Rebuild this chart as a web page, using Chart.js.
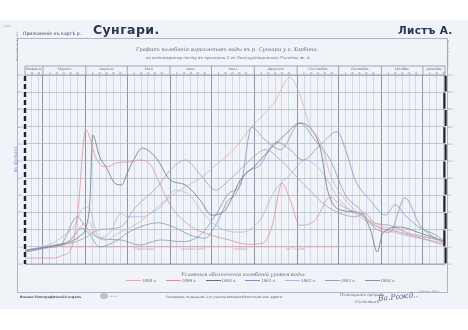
<!DOCTYPE html>
<html lang="ru">
<head>
<meta charset="UTF-8">
<title>Сунгари — Листъ А.</title>
<script src="https://cdn.jsdelivr.net/npm/chart.js@4.4.8/dist/chart.umd.min.js"></script>
<style>
    body { margin: 0; background: #fff; }
    #sheet { position: relative; width: 468px; height: 330px; overflow: hidden; }
    .paper { position: absolute; left: 0; top: 20px; width: 468px; height: 289px; background: #f0f3f8; }
    .frame { position: absolute; left: 17px; top: 38px; width: 431px; height: 255px; border: 1px solid #aeb5c3; box-sizing: border-box; }
    canvas { position: absolute; left: 0; top: 0; }
    .t { position: absolute; white-space: nowrap; line-height: 1; color: #3b4262; z-index: 2; }
    .hand { font-family: "DejaVu Serif", serif; font-style: italic; color: #626b86; }
    .legend { position: absolute; top: 278px; left: 126px; z-index: 2; font-family: "DejaVu Serif", serif; font-style: italic; font-size: 4px; color: #626b86; white-space: nowrap; }
    .legend span.ln { display: inline-block; width: 15px; height: 0; border-top: 0.8px solid; vertical-align: middle; margin-right: 1px; }
    .legend span.it { display: inline-block; margin-right: 9px; }
</style>
</head>
<body>
<div id="sheet">
    <div class="paper"></div>
    <div class="frame"></div>
    <canvas id="chart" width="468" height="330"></canvas>

    <div class="t" style="left:3px; top:24px; font:3px 'DejaVu Sans'; color:#8a90a0;">1-2/3</div>
    <div class="t" style="left:23px; top:31px; font:4.6px 'DejaVu Sans';">Приложеніе къ картѣ р.</div>
    <div class="t" style="left:93px; top:22px; font:bold 12.5px 'DejaVu Sans'; letter-spacing:0.4px; color:#2c3354;">Сунгари.</div>
    <div class="t" style="left:398px; top:24px; font:bold 10.5px 'DejaVu Sans'; letter-spacing:0.3px; color:#2c3354;">Листъ А.</div>

    <div class="t hand" style="left:136px; top:47px; font-size:5.2px;">Графикъ колебанія горизонтовъ воды въ р. Сунгари у г. Харбина.</div>
    <div class="t hand" style="left:146px; top:56px; font-size:4px;">по водомѣрному посту въ пристани 2-го Эксплуатаціоннаго Участка ж. д.</div>

    <div class="t" style="left:16px; top:61px; font:2.6px 'DejaVu Sans'; color:#8a90a0; transform:rotate(-90deg); transform-origin:left top;">Масштабъ въ футахъ</div>
    <div class="t" style="left:449px; top:40px; font:2.6px 'DejaVu Sans'; color:#8a90a0; transform:rotate(90deg); transform-origin:left top;">Масштабъ въ футахъ</div>
    <div class="t hand" style="left:14px; top:172px; font-size:4.5px; color:#6c80d0; transform:rotate(-90deg); transform-origin:left top;">въ футахъ</div>

    <div class="t hand" style="left:181px; top:272px; font-size:5px;">Условныя обозначенія колебаній уровня воды:</div>
    <div class="legend" id="legend"></div>

    <div class="t" style="left:20px; top:295px; font:bold 3.2px 'DejaVu Sans'; color:#4a5070;">Военно-Топографическій отдѣлъ</div>
    <div class="t" style="left:100px; top:293px; width:8px; height:6px; border-radius:50%; background:#bcc0cb; font-size:0;">.</div>
    <div class="t" style="left:109px; top:295px; font:2.4px 'DejaVu Sans'; color:#9aa0b0;">печать</div>
    <div class="t" style="left:166px; top:295px; font:3px 'DejaVu Sans'; color:#4a5070;">Составленъ по даннымъ 2-го участка Китайской Восточной жел. дороги.</div>
    <div class="t hand" style="left:340px; top:293px; font-size:4px;">Помощникъ прораба</div>
    <div class="t hand" style="left:355px; top:300px; font-size:4px;">Составилъ</div>
    <div class="t hand" style="left:378px; top:293px; font-size:7.5px; color:#5a6182; transform:rotate(-6deg);">Ва.Рожд..</div>
    <div class="t" style="left:419px; top:290px; font:2.4px 'DejaVu Sans'; color:#8a90a0;">Харбинъ, 1905 г.</div>
</div>

<script>
    // calendar of the sheet: mid-February to mid-December, day of year on the x axis
    const monthNames = ['Февраль', 'Мартъ', 'Апрѣль', 'Май', 'Іюнь', 'Іюль', 'Августъ', 'Сентябрь', 'Октябрь', 'Ноябрь', 'Декабрь'];
    const monthStarts = [32, 60, 91, 121, 152, 182, 213, 244, 274, 305, 335];
    const levelTicks = [0, 2, 4, 6, 8, 10, 12, 14, 16, 18, 20, 22];
    const years = ['1898', '1899', '1900', '1901', '1902', '1903', '1904'];

    // water level in feet, one pair of arrays per year
    const days1898 = [47, 65, 76, 83, 88, 93, 98, 105, 116, 130, 145, 159, 174, 185, 198, 210, 227, 239, 246, 253, 261, 268, 275, 290, 304, 318, 333, 351];
    const level1898 = [1.4, 1.9, 2.3, 3.4, 4.5, 4.9, 3.4, 2.8, 3.7, 4.9, 6.9, 8.6, 10.0, 11.5, 13.3, 15.8, 18.7, 21.7, 19.7, 16.2, 14.1, 10.4, 8.3, 5.7, 4.5, 3.7, 3.3, 2.6];

    const days1899 = [47, 69, 74, 80, 85, 91, 99, 106, 114, 123, 130, 138, 145, 152, 166, 181, 195, 208, 219, 226, 233, 239, 246, 257, 268, 275, 290, 304, 318, 333, 351];
    const level1899 = [0.7, 0.7, 1.0, 1.6, 5.7, 15.6, 12.1, 11.3, 11.8, 11.9, 12.1, 11.5, 9.2, 6.9, 4.5, 3.4, 2.8, 2.3, 2.4, 4.5, 9.4, 7.4, 4.5, 5.1, 7.8, 6.9, 5.7, 4.2, 3.7, 3.0, 2.2];

    const days1900 = [47, 65, 80, 87, 91, 94, 96, 101, 106, 112, 117, 121, 125, 132, 138, 143, 152, 163, 174, 182, 192, 203, 214, 224, 235, 246, 253, 261, 266, 275, 290, 297, 302, 306, 318, 333, 351];
    const level1900 = [1.4, 2.0, 2.6, 3.3, 4.2, 7.4, 15.0, 12.5, 11.2, 9.4, 9.2, 10.6, 11.9, 13.5, 13.0, 12.1, 9.8, 9.2, 7.4, 5.7, 6.3, 9.8, 11.5, 13.3, 15.0, 16.4, 15.9, 13.3, 8.6, 6.3, 5.9, 4.0, 1.4, 3.6, 4.3, 3.6, 2.6];

    const days1901 = [47, 65, 80, 88, 93, 101, 114, 121, 130, 143, 156, 166, 177, 185, 194, 199, 206, 217, 229, 239, 248, 261, 273, 279, 286, 297, 308, 315, 322, 333, 344, 351];
    const level1901 = [1.6, 2.1, 2.8, 4.2, 3.6, 2.0, 2.8, 3.6, 4.3, 4.8, 4.2, 3.4, 3.0, 4.5, 7.4, 8.0, 10.4, 11.5, 14.2, 13.3, 12.1, 13.9, 15.4, 13.3, 9.8, 7.4, 5.7, 6.9, 5.7, 4.2, 3.4, 2.6];

    const days1902 = [47, 65, 76, 83, 88, 93, 98, 101, 109, 116, 121, 132, 138, 145, 156, 166, 177, 188, 203, 217, 228, 239, 250, 261, 275, 290, 304, 318, 333, 351];
    const level1902 = [1.6, 2.3, 3.4, 4.5, 6.3, 6.6, 4.0, 3.1, 3.7, 5.9, 5.5, 5.5, 5.9, 6.6, 8.6, 8.0, 5.7, 4.2, 3.7, 5.1, 8.6, 10.4, 12.1, 10.9, 7.4, 5.4, 4.2, 3.5, 3.0, 2.4];

    const days1903 = [47, 65, 80, 90, 101, 116, 127, 143, 152, 163, 174, 185, 195, 210, 221, 232, 242, 253, 264, 275, 286, 293, 300, 311, 326, 340, 351];
    const level1903 = [1.6, 2.0, 2.4, 3.0, 4.0, 4.3, 6.6, 9.0, 10.9, 12.1, 10.4, 8.6, 9.8, 12.1, 13.3, 12.1, 10.4, 8.6, 6.9, 5.9, 5.5, 5.9, 4.8, 4.5, 3.5, 3.0, 2.7];

    const days1904 = [47, 62, 72, 85, 90, 101, 116, 130, 145, 161, 174, 185, 195, 203, 211, 221, 232, 246, 257, 268, 279, 290, 300, 311, 322, 333, 351];
    const level1904 = [1.5, 1.9, 2.1, 5.5, 4.5, 3.0, 2.8, 2.2, 2.8, 2.6, 3.4, 5.7, 8.3, 9.2, 15.9, 14.4, 13.3, 16.4, 14.4, 12.1, 8.0, 6.3, 4.2, 3.7, 7.7, 4.5, 2.3];

    // low-water mark drawn in red ink across the summer
    const lowWaterDays = [72, 275];
    const lowWaterLevel = [2.0, 2.0];

    const seriesDays = [days1898, days1899, days1900, days1901, days1902, days1903, days1904];
    const seriesLevels = [level1898, level1899, level1900, level1901, level1902, level1903, level1904];
    const lineColors = ['#e3aab1', '#d9909a', '#66707f', '#7d93c2', '#a9bad9', '#9ba0ae', '#8e90aa'];

    // pentad grid lines: 1st, 6th, 11th ... of every month
    const gridDays = [];
    monthStarts.forEach(m => {
        for (let k = 0; k <= 25; k += 5) gridDays.push(m + k);
    });

    const datasets = years.map((y, i) => ({
        label: y,
        data: seriesDays[i].map((d, j) => ({x: d, y: seriesLevels[i][j]})),
        borderColor: lineColors[i],
        borderWidth: 0.75,
        pointRadius: 0,
        cubicInterpolationMode: 'monotone',
        fill: false
    }));
    datasets.push({
        label: 'низкія воды',
        data: lowWaterDays.map((d, j) => ({x: d, y: lowWaterLevel[j]})),
        borderColor: '#dc9aa0',
        borderWidth: 0.7,
        pointRadius: 0,
        fill: false
    });

    // header with month names, scale bars on both sides, level numbers
    const sheetDecor = {
        id: 'sheetDecor',
        afterDraw(chart) {
            const ctx = chart.ctx;
            const xs = chart.scales.x, ys = chart.scales.y;
            const a = chart.chartArea;
            const headTop = a.top - 9;
            ctx.save();

            // header box
            ctx.strokeStyle = '#7b8396';
            ctx.lineWidth = 0.7;
            ctx.strokeRect(a.left, headTop, a.right - a.left, a.top - headTop);
            ctx.beginPath();
            ctx.moveTo(a.left, a.bottom); ctx.lineTo(a.right, a.bottom);
            ctx.stroke();

            monthStarts.forEach((m, i) => {
                const px = xs.getPixelForValue(m);
                if (px > a.left && px < a.right) {
                    ctx.beginPath();
                    ctx.moveTo(px, headTop); ctx.lineTo(px, a.top);
                    ctx.stroke();
                }
                const end = i + 1 < monthStarts.length ? monthStarts[i + 1] : m + 31;
                const l = Math.max(a.left, px), r = Math.min(a.right, xs.getPixelForValue(end));
                ctx.fillStyle = '#5d6784';
                ctx.font = 'italic 3.6px "DejaVu Serif"';
                ctx.textAlign = 'center';
                ctx.fillText(monthNames[i], (l + r) / 2, headTop + 4);
                // pentad numbers
                ctx.font = '2.3px "DejaVu Sans"';
                ctx.fillStyle = '#8b92a5';
                for (let k = 5; k <= 25; k += 5) {
                    const p = xs.getPixelForValue(m + k);
                    if (p > a.left + 1 && p < a.right - 1) {
                        ctx.fillText(String(k), p, a.top - 1);
                        ctx.strokeStyle = '#aab2c2';
                        ctx.beginPath();
                        ctx.moveTo(p, a.top - 3); ctx.lineTo(p, a.top);
                        ctx.stroke();
                    }
                }
                ctx.strokeStyle = '#7b8396';
            });

            // left scale bar, dashed
            ctx.strokeStyle = '#1d2236';
            ctx.lineWidth = 2.4;
            ctx.setLineDash([5, 3]);
            ctx.beginPath();
            ctx.moveTo(a.left, a.top + 1); ctx.lineTo(a.left, a.bottom);
            ctx.stroke();
            ctx.setLineDash([]);

            // right scale bar, one block per grid step
            for (let i = 0; i < levelTicks.length - 1; i++) {
                const y0 = ys.getPixelForValue(levelTicks[i]);
                const y1 = ys.getPixelForValue(levelTicks[i + 1]);
                ctx.lineWidth = 2.2;
                ctx.beginPath();
                const off = i % 2 ? -0.6 : 0.6;
                ctx.moveTo(a.right + off, y0 - 0.6); ctx.lineTo(a.right + off, y1 + 0.6);
                ctx.stroke();
            }

            // level numbers on both sides
            ctx.fillStyle = '#8b92a5';
            ctx.font = '2.4px "DejaVu Sans"';
            levelTicks.forEach(v => {
                const py = ys.getPixelForValue(v);
                ctx.textAlign = 'right';
                ctx.fillText(v.toFixed(1), a.left - 2.5, py + 1);
                ctx.textAlign = 'left';
                ctx.fillText(v.toFixed(1), a.right + 2.5, py + 1);
            });

            // red handwriting along the low-water line
            ctx.fillStyle = '#d98e94';
            ctx.font = 'italic 3.4px "DejaVu Serif"';
            ctx.textAlign = 'left';
            const ly = ys.getPixelForValue(lowWaterLevel[0]) + 3;
            ctx.fillText('Горизонтъ', xs.getPixelForValue(126), ly);
            ctx.fillText('низкихъ водъ', xs.getPixelForValue(160), ly);
            ctx.fillText('средній', xs.getPixelForValue(198), ly);
            ctx.fillText('за 7 лѣтъ', xs.getPixelForValue(236), ly);
            ctx.restore();
        }
    };

    new Chart(document.getElementById('chart'), {
        type: 'line',
        data: {datasets: datasets},
        options: {
            responsive: false,
            animation: false,
            events: [],
            layout: {padding: {left: 25, right: 23, top: 75, bottom: 66}},
            plugins: {legend: {display: false}, tooltip: {enabled: false}},
            scales: {
                x: {
                    type: 'linear',
                    min: 47,
                    max: 351,
                    afterBuildTicks: axis => { axis.ticks = gridDays.filter(d => d > 47 && d < 351).map(d => ({value: d})); },
                    ticks: {display: false},
                    border: {display: false},
                    grid: {
                        drawTicks: false,
                        color: c => monthStarts.includes(c.tick.value) ? '#737c90' : '#c0c8d7',
                        lineWidth: c => monthStarts.includes(c.tick.value) ? 0.8 : 0.6
                    }
                },
                y: {
                    min: 0,
                    max: 22,
                    afterBuildTicks: axis => { axis.ticks = levelTicks.map(v => ({value: v})); },
                    ticks: {display: false},
                    border: {display: false},
                    grid: {drawTicks: false, color: '#adb6c7', lineWidth: 0.7}
                }
            }
        },
        plugins: [sheetDecor]
    });

    // legend row under the graph
    document.getElementById('legend').innerHTML = years.map((y, i) =>
        '<span class="it"><span class="ln" style="border-color:' + lineColors[i] + '"></span>' + y + ' г.</span>'
    ).join('');
</script>
</body>
</html>
